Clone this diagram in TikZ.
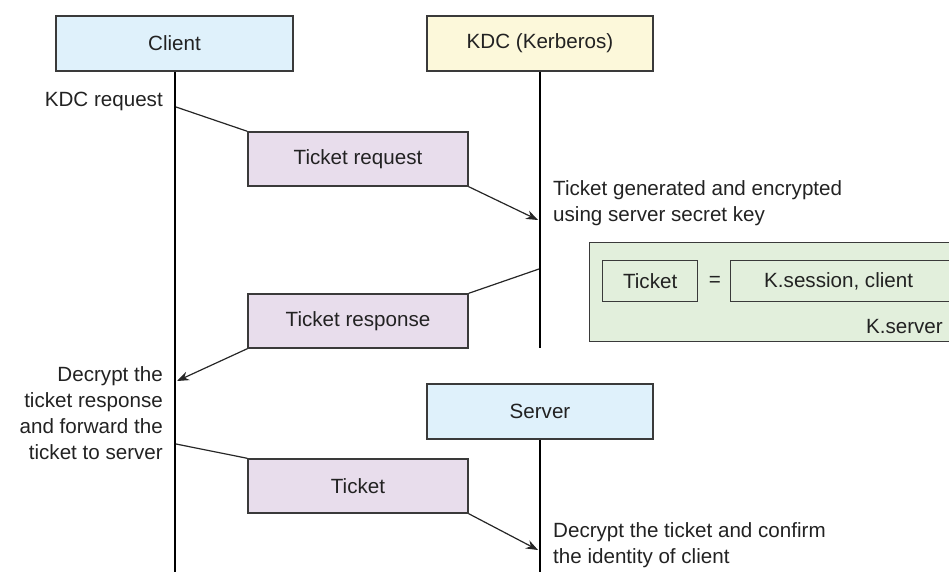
\documentclass[tikz,border=0pt]{standalone}
\usepackage{fontspec}
\setmainfont{Liberation Sans}
\usetikzlibrary{arrows.meta}
\definecolor{actorblue}{HTML}{DFF1FB}
\definecolor{kdcyellow}{HTML}{FCF8DA}
\definecolor{msgpurple}{HTML}{E8DDEC}
\definecolor{keygreen}{HTML}{E2EFDC}
\definecolor{edge}{HTML}{3A3A3A}
\definecolor{ink}{HTML}{222222}
\tikzset{
  actor/.style={draw=edge, line width=1.4pt, fill=actorblue, minimum width=226pt, minimum height=55pt, inner sep=0pt, text=ink},
  msgbox/.style={draw=edge, line width=1.4pt, fill=msgpurple, minimum width=220pt, minimum height=54pt, inner sep=0pt, text=ink},
  keybox/.style={draw=edge, line width=1.3pt, fill=keygreen, minimum height=41pt, inner sep=0pt, text=ink},
  lifeline/.style={draw=black, line width=1.3pt},
  conn/.style={draw=black!85, line width=1.2pt},
  arr/.style={conn, -{Stealth[length=12pt, width=9pt]}},
  note/.style={inner sep=0pt, text=ink, font=\fontsize{20.6}{26}\selectfont},
}
\begin{document}
\begin{tikzpicture}[x=1pt, y=-1pt, font=\fontsize{20.6}{26}\selectfont]
\useasboundingbox (0,0) rectangle (949,572);

% participants
\node[actor, minimum width=237pt] (client) at (174.5,43.5) {Client};
\node[actor, fill=kdcyellow] (kdc) at (540,43.5) {KDC (Kerberos)};
\node[actor] (server) at (540,411.5) {Server};

% lifelines
\coordinate (clientend) at (175,572);
\coordinate (kdcend) at (540,348);
\coordinate (serverend) at (540,572);
\draw[lifeline] (client.south -| clientend) -- (clientend);
\draw[lifeline] (kdc.south) -- (kdcend);
\draw[lifeline] (server.south) -- (serverend);

% key material held by the KDC
\node[draw=edge, line width=1.3pt, fill=keygreen, minimum width=380pt, minimum height=99pt, inner sep=0pt, anchor=north west] (keyarea) at (589,242) {};
\node[keybox, minimum width=95pt, anchor=north west] (tkt) at (602,260) {Ticket};
\node[text=ink, inner sep=0pt] (eq) at (715,281) {=};
\node[keybox, minimum width=230pt, anchor=north west] (sess) at (730,260) {\hspace*{-7pt}K.session, client\hspace*{7pt}};
\node[note, anchor=east] (kserver) at (943,327) {K.server};

% messages
\node[msgbox] (treq) at (358,159) {Ticket request};
\node[msgbox] (tresp) at (358,321) {Ticket response};
\node[msgbox] (tfwd) at (358,486) {Ticket};

\coordinate (reqstart) at (176,107);
\coordinate (reqend) at (538,220);
\coordinate (respstart) at (539,269);
\coordinate (respend) at (177,381);
\coordinate (fwdstart) at (176,444);
\coordinate (fwdend) at (538,550);

\draw[conn] (reqstart) -- (treq.north west);
\draw[arr] (treq.south east) -- (reqend);
\draw[conn] (respstart) -- (tresp.north east);
\draw[arr] (tresp.south west) -- (respend);
\draw[conn] (fwdstart) -- (tfwd.north west);
\draw[arr] (tfwd.south east) -- (fwdend);

% annotations
\node[note, anchor=east] (kdcreq) at (163,101) {KDC request};
\node[note, anchor=west, align=left] (gen) at (553,203) {Ticket generated and encrypted\\using server secret key};
\node[note, anchor=east, align=right] (decr) at (163,413) {Decrypt the\\ticket response\\and forward the\\ticket to server};
\node[note, anchor=west, align=left] (confirm) at (553,545) {Decrypt the ticket and confirm\\the identity of client};
\end{tikzpicture}
\end{document}
